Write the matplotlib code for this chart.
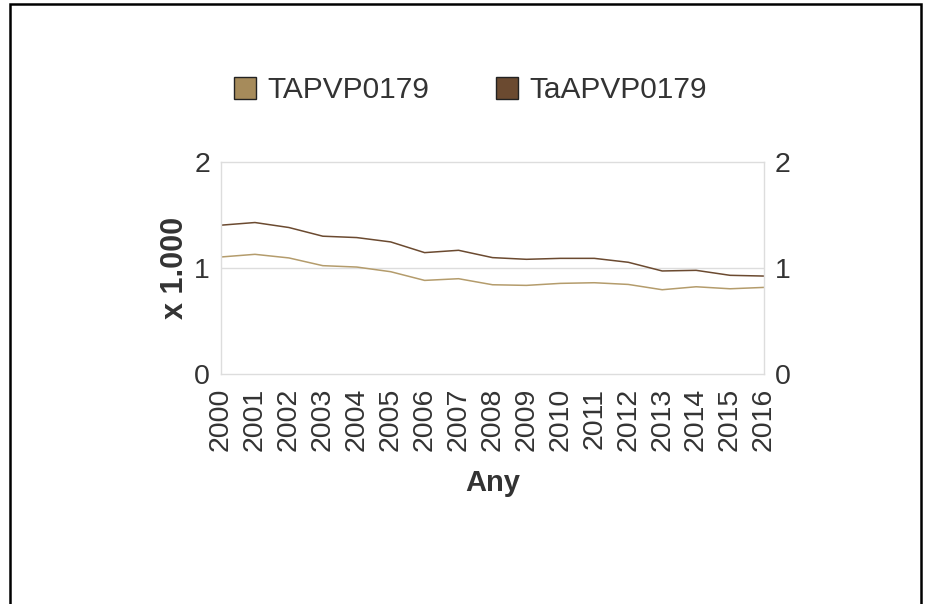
import matplotlib.pyplot as plt
from matplotlib.patches import Rectangle
from matplotlib.lines import Line2D

years = list(range(2000, 2017))
tapvp = [1.104, 1.129, 1.095, 1.022, 1.009, 0.965, 0.883, 0.899, 0.842, 0.836,
         0.855, 0.861, 0.845, 0.795, 0.823, 0.804, 0.817]
taapvp = [1.404, 1.429, 1.382, 1.300, 1.287, 1.246, 1.145, 1.167, 1.098, 1.082,
          1.091, 1.091, 1.054, 0.972, 0.978, 0.931, 0.924]
series_names = ['TAPVP0179', 'TaAPVP0179']
colors = ['#a68b5b', '#6b4a30']

plt.rcParams['font.family'] = ['Liberation Sans', 'DejaVu Sans']
txt = '#333333'
grid = '#dddddd'

fig = plt.figure(figsize=(9.26, 6.04), dpi=100)
ax = fig.add_axes([221 / 926, 230 / 604, 543 / 926, 212 / 604])

x = list(range(len(years)))
ax.plot(x, tapvp, color='#b49c6c', lw=1.1)
ax.plot(x, taapvp, color=colors[1], lw=1.1)

ax.set_xlim(0, len(years) - 1)
ax.set_ylim(0, 2)
ax.set_yticks([0, 1, 2])
ax.set_xticks(x)
ax.set_xticklabels([str(y) for y in years], rotation=90)
ax.tick_params(length=0, labelsize=20.5, colors=txt, pad=8)
ax.tick_params(axis='x', pad=10)
ax.tick_params(axis='y', labelright=True)
for s in ax.spines.values():
    s.set_color(grid)
    s.set_linewidth(1)
ax.axhline(1, color=grid, lw=1, zorder=0)

ax.set_xlabel('Any', fontsize=21, fontweight='bold', color=txt, labelpad=13)
ax.set_ylabel('x 1.000', fontsize=22, fontweight='bold', color=txt, labelpad=3)

handles = [Line2D([], [], marker='s', linestyle='none', markersize=15.5,
                  markerfacecolor=c, markeredgecolor='#222222', markeredgewidth=1)
           for c in colors]
fig.legend(handles, series_names, loc='center', bbox_to_anchor=(470 / 926, 1 - 90 / 604),
           ncol=2, frameon=False, fontsize=21.5, handlelength=0.8, handletextpad=0.35,
           columnspacing=2.2, labelcolor=txt)

fig.patches.append(Rectangle((10 / 926, -0.05), 911 / 926, 1.05 - 4 / 604,
                             transform=fig.transFigure, fill=False,
                             edgecolor='black', lw=1.8))

fig.savefig('out.png', dpi=100)
